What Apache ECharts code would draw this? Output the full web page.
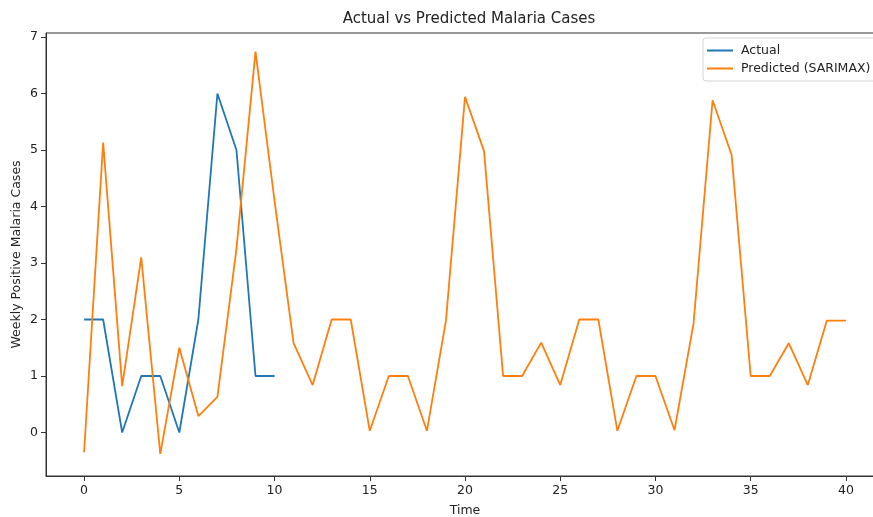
<!DOCTYPE html>
<html>
<head>
<meta charset="utf-8">
<script src="https://cdn.jsdelivr.net/npm/echarts@6/dist/echarts.min.js"></script>
<style>
  html, body { margin: 0; padding: 0; background: #fff; }
  #chart { width: 873px; height: 517px; }
</style>
</head>
<body>
<div id="chart"></div>
<script>
// Weekly time index
const timeSteps = [0,1,2,3,4,5,6,7,8,9,10,11,12,13,14,15,16,17,18,19,20,21,22,23,24,25,26,27,28,29,30,31,32,33,34,35,36,37,38,39,40];
// Observed weekly positive cases
const actualValues = [2,2,0,1,1,0,2,6,5,1,1];
// SARIMAX predictions
const predictedValues = [-0.35,5.13,0.82,3.1,-0.38,1.5,0.29,0.63,3.25,6.74,4.1,1.58,0.84,2.0,2.0,0.03,1.0,1.0,0.03,1.98,5.94,4.98,1.0,1.0,1.59,0.84,2.0,2.0,0.03,1.0,1.0,0.04,1.93,5.88,4.91,1.0,1.0,1.58,0.84,1.98,1.98];
// Tick values
const xTicks = [0,5,10,15,20,25,30,35,40];
const yTicks = [0,1,2,3,4,5,6,7];

const FONT = 'DejaVu Sans';
const LABEL_SIZE = 12.5;
const chart = echarts.init(document.getElementById('chart'), null, { renderer: 'canvas' });

const toPairs = (vals) => vals.map((v, i) => [timeSteps[i], v]);

chart.setOption({
  animation: false,
  backgroundColor: '#fff',
  textStyle: { fontFamily: FONT },
  title: {
    text: 'Actual vs Predicted Malaria Cases',
    left: 464, top: 7, textAlign: 'center',
    textStyle: { fontFamily: FONT, fontSize: 15, fontWeight: 'normal', color: '#222' }
  },
  legend: {
    orient: 'vertical',
    left: 703, top: 38,
    padding: [6, 8, 6, 4],
    itemGap: 5,
    itemWidth: 26, itemHeight: 2,
    icon: 'rect',
    backgroundColor: '#fff',
    borderColor: '#d6d6d6', borderWidth: 1, borderRadius: 3,
    textStyle: { fontFamily: FONT, fontSize: LABEL_SIZE, color: '#222', padding: [0, 0, 0, 3] },
    data: ['Actual', 'Predicted (SARIMAX)']
  },
  grid: {
    left: 46, top: 33, width: 838, height: 443,
    containLabel: false, outerBoundsMode: 'none',
    show: true, borderColor: '#333', borderWidth: 1, backgroundColor: 'transparent'
  },
  xAxis: {
    type: 'value', min: -2, max: 42,
    name: 'Time', nameLocation: 'middle', nameGap: 28, nameMoveOverlap: false,
    nameTextStyle: { fontFamily: FONT, fontSize: LABEL_SIZE, color: '#222' },
    axisLine: { show: true, onZero: false, lineStyle: { color: '#333', width: 1 } },
    splitLine: { show: false },
    axisTick: { show: true, inside: false, length: 5, lineStyle: { color: '#333' }, customValues: xTicks },
    axisLabel: { fontFamily: FONT, fontSize: LABEL_SIZE, color: '#222', margin: 8, customValues: xTicks }
  },
  yAxis: {
    type: 'value', min: -0.77, max: 7.07,
    name: 'Weekly Positive Malaria Cases', nameLocation: 'middle', nameGap: 23, nameMoveOverlap: false,
    nameTextStyle: { fontFamily: FONT, fontSize: LABEL_SIZE, color: '#222' },
    axisLine: { show: true, onZero: false, lineStyle: { color: '#333', width: 1 } },
    splitLine: { show: false },
    axisTick: { show: true, inside: false, length: 5, lineStyle: { color: '#333' }, customValues: yTicks },
    axisLabel: { fontFamily: FONT, fontSize: LABEL_SIZE, color: '#222', margin: 8, customValues: yTicks }
  },
  series: [
    {
      name: 'Actual', type: 'line', data: toPairs(actualValues),
      showSymbol: false, symbol: 'none',
      lineStyle: { color: '#1f77b4', width: 1.8 }, itemStyle: { color: '#1f77b4' }
    },
    {
      name: 'Predicted (SARIMAX)', type: 'line', data: toPairs(predictedValues),
      showSymbol: false, symbol: 'none',
      lineStyle: { color: '#ff7f0e', width: 1.8 }, itemStyle: { color: '#ff7f0e' }
    }
  ]
});
</script>
</body>
</html>
